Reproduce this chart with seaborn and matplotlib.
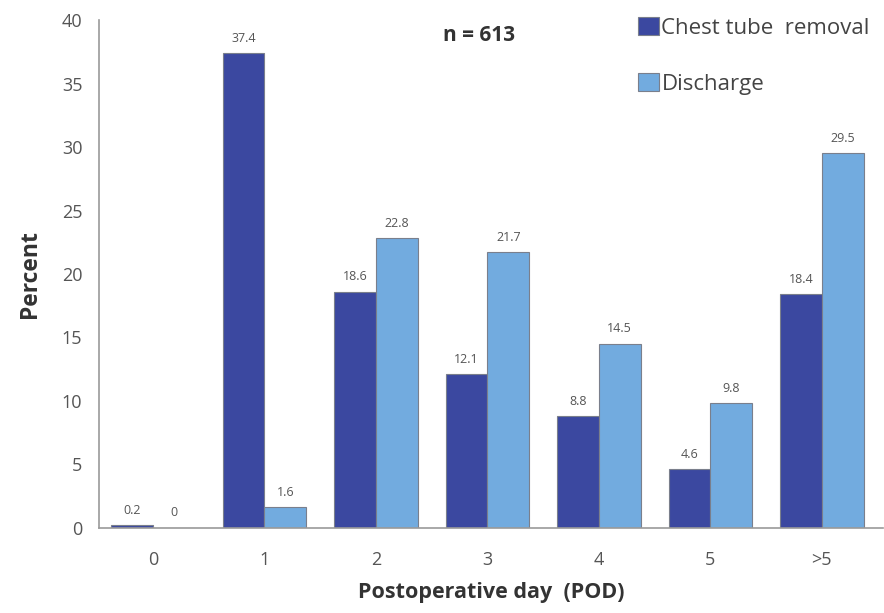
import matplotlib
matplotlib.use("Agg")
import matplotlib.pyplot as plt
import seaborn as sns
import pandas as pd

categories = ["0", "1", "2", "3", "4", "5", ">5"]
chest_tube = [0.2, 37.4, 18.6, 12.1, 8.8, 4.6, 18.4]
discharge = [0, 1.6, 22.8, 21.7, 14.5, 9.8, 29.5]
series_names = ["Chest tube  removal", "Discharge"]
yticks = [0, 5, 10, 15, 20, 25, 30, 35, 40]

df = pd.DataFrame({
    "day": categories * 2,
    "value": chest_tube + discharge,
    "series": [series_names[0]] * len(categories) + [series_names[1]] * len(categories),
})

sns.set_theme(style="white")
plt.rcParams["font.family"] = ["Open Sans", "DejaVu Sans"]

fig = plt.figure(figsize=(8.84, 6.13), dpi=100)
ax = fig.add_axes([0.112, 0.139, 0.887, 0.828])

palette = {series_names[0]: "#3b48a0", series_names[1]: "#72abdf"}
sns.barplot(data=df, x="day", y="value", hue="series", order=categories,
            hue_order=series_names, palette=palette, width=0.75,
            edgecolor="#7a7f8c", linewidth=0.8, saturation=1, ax=ax)

for cont in ax.containers:
    ax.bar_label(cont, labels=[f"{v:g}" for v in cont.datavalues],
                 padding=6, fontsize=9, color="#555555")

ax.set_ylim(0, 40)
ax.set_xlim(-0.484, 6.55)
ax.set_yticks(yticks)
ax.set_yticklabels([str(t) for t in yticks])
ax.tick_params(axis="y", length=0, labelsize=13, labelcolor="#555555", pad=12)
ax.tick_params(axis="x", length=0, labelsize=13, labelcolor="#555555", pad=17)
ax.set_ylabel("Percent", fontsize=16.5, fontweight="bold", color="#333333", labelpad=14)
ax.set_xlabel("Postoperative day  (POD)", fontsize=15.5, fontweight="bold", color="#333333", labelpad=9)

for s in ["top", "right"]:
    ax.spines[s].set_visible(False)
for s in ["left", "bottom"]:
    ax.spines[s].set_color("#9a9a9a")
    ax.spines[s].set_linewidth(1.2)

ax.text(0.485, 0.99, "n = 613", transform=ax.transAxes, ha="center", va="top",
        fontsize=15, fontweight="bold", color="#333333")

leg = ax.legend(loc="upper left", bbox_to_anchor=(0.687, 1.006), frameon=False,
                fontsize=16, handlelength=0.95, handleheight=0.85, handletextpad=0.12,
                labelspacing=1.55, borderpad=0, borderaxespad=0, labelcolor="#444444")

fig.savefig("out.png", dpi=100)
